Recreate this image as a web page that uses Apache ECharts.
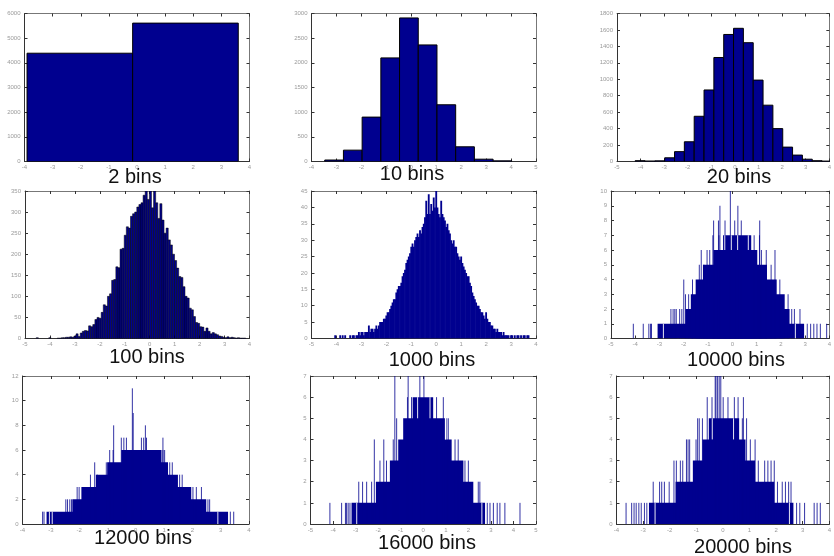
<!DOCTYPE html>
<html>
<head>
<meta charset="utf-8">
<script src="https://cdn.jsdelivr.net/npm/echarts@6/dist/echarts.min.js"></script>
<style>
html, body { margin: 0; padding: 0; background: #fff; }
#chart { width: 834px; height: 556px; }
</style>
</head>
<body>
<div id="chart"></div>
<script>
var NAVY = '#00008f';

// panel captions
var captions = ['2 bins', '10 bins', '20 bins', '100 bins', '1000 bins', '10000 bins', '12000 bins', '16000 bins', '20000 bins'];

// axis ranges: x [min, max], y top, y tick step
var xRanges = [[-4, 4], [-4, 5], [-5, 4], [-5, 4], [-5, 4], [-5, 4], [-4, 4], [-5, 5], [-4, 4]];
var yTops = [6000, 3000, 1800, 350, 45, 10, 12, 7, 7];
var ySteps = [1000, 500, 200, 50, 5, 1, 2, 1, 1];

// 2 bins
var start2 = -3.91, width2 = 3.755;
var counts2 = [4390, 5610];

// 10 bins
var start10 = -3.47, width10 = 0.75;
var counts10 = [30, 230, 900, 2100, 2910, 2363, 1150, 298, 47, 13];

// 20 bins
var start20 = -4.23, width20 = 0.417;
var counts20 = [10, 6, 8, 45, 120, 240, 550, 870, 1265, 1545, 1620, 1445, 990, 685, 400, 175, 78, 28, 10, 5];

// 100 bins
var start100 = -4.55, width100 = 0.084;
var counts100 = [
  2, 0, 0, 0, 0, 0, 2, 0, 0, 0,
  1, 1, 2, 2, 3, 3, 4, 3, 6, 11,
  5, 13, 17, 19, 18, 30, 28, 33, 45, 50,
  48, 62, 80, 77, 100, 106, 138, 140, 170, 168,
  212, 214, 245, 265, 262, 290, 296, 300, 312, 318,
  322, 340, 350, 330, 350, 310, 350, 322, 285, 320,
  281, 250, 262, 234, 222, 200, 185, 167, 147, 145,
  123, 100, 96, 72, 68, 52, 38, 36, 28, 27,
  17, 25, 17, 11, 14, 11, 9, 6, 5, 3,
  2, 4, 2, 3, 2, 1, 2, 1, 1, 1
];

// 1000 bins, read as columns of 0.05 (centres)
var start1000 = -4.1, step1000 = 0.05;
var counts1000 = [
  0, 1, 0, 0, 0, 1, 0, 1, 0, 1,
  0, 0, 0, 1, 0, 1, 1, 0, 1, 1,
  2, 1, 2, 2, 1, 2, 2, 2, 4, 2,
  3, 3, 2, 3, 4, 3, 4, 5, 5, 5,
  6, 6, 7, 8, 8, 9, 10, 11, 12, 12,
  14, 15, 16, 16, 17, 19, 20, 21, 23, 24,
  25, 26, 28, 29, 28, 30, 31, 32, 31, 33,
  32, 34, 35, 37, 42, 38, 44, 38, 41, 39,
  43, 40, 45, 40, 38, 37, 42, 38, 37, 36,
  34, 35, 33, 32, 30, 29, 30, 28, 28, 26,
  25, 24, 25, 23, 22, 21, 20, 19, 19, 17,
  16, 14, 13, 12, 11, 10, 10, 9, 8, 8,
  7, 6, 8, 6, 5, 5, 4, 4, 3, 3,
  2, 3, 2, 2, 2, 1, 2, 1, 1, 1,
  1, 0, 1, 1, 0, 1, 0, 1, 1, 0,
  1, 0, 1, 1, 0, 1, 1
];

// fine histograms: plateaus [from, to, count], single spikes [x, count], empty bins [x, count]
var levels10000 = [[-3.08, 2.96, 1], [-1.93, 2.36, 2], [-1.71, 2.16, 3], [-1.51, 1.83, 4], [-1.21, 1.43, 5], [-0.77, 1.03, 6], [-0.38, 0.78, 7]];
var spikes10000 = [[-4.08, 1], [-3.67, 1], [-3.44, 1], [-3.37, 1], [-3.33, 1], [3.09, 1], [3.23, 1], [3.36, 1], [3.49, 1], [3.63, 1], [3.89, 1],
  [-2.53, 2], [-2.44, 2], [-2.37, 2], [-2.31, 2], [-2.17, 2], [-2.08, 2], [2.45, 2], [2.56, 2], [2.79, 2],
  [-1.93, 3], [-1.8, 3], [2.3, 3],
  [-2.0, 4], [-1.64, 4], [1.96, 4],
  [-1.17, 5], [-1.36, 5], [1.6, 5],
  [-1.28, 6], [-1.04, 6], [-0.93, 6], [1.2, 6], [1.4, 6], [1.76, 6],
  [-0.8, 7], [-0.55, 7], [0.9, 7], [1.12, 7],
  [-0.77, 8], [-0.57, 8], [-0.3, 8], [0.1, 8], [0.37, 8], [1.13, 8],
  [-0.51, 9], [0.23, 9], [-0.08, 10]];
var gaps10000 = [[-2.84, 0], [-0.31, 6], [-0.04, 6], [0.22, 6], [0.66, 6], [2.6, 0]];

var levels12000 = [[-3.15, 3.26, 1], [-2.24, 2.49, 2], [-1.92, 1.96, 3], [-1.41, 1.49, 4], [-1.01, 1.14, 5], [-0.51, 0.91, 6]];
var spikes12000 = [[-3.29, 1], [-3.24, 1], [3.34, 1], [3.46, 1],
  [-2.47, 2], [-2.41, 2], [-2.33, 2], [-2.27, 2], [2.55, 2], [2.61, 2],
  [-2.07, 3], [-2.0, 3], [2.02, 3], [2.14, 3], [2.32, 3],
  [-1.6, 4], [-1.36, 4], [1.55, 4], [1.64, 4],
  [-1.45, 5], [-1.04, 5], [1.2, 5], [1.29, 5],
  [-0.92, 6], [-0.8, 6], [0.96, 6], [1.02, 6],
  [-0.51, 7], [-0.42, 7], [-0.33, 7], [0.2, 7], [0.28, 7], [0.38, 7], [0.96, 7],
  [-0.78, 8], [0.34, 8], [-0.09, 9], [-0.12, 11]];
var gaps12000 = [[-3.05, 0], [-2.95, 0], [-0.2, 6], [0.1, 6], [2.9, 0]];

var levels16000 = [[-3.18, 2.74, 1], [-2.1, 2.22, 2], [-1.48, 1.78, 3], [-1.11, 1.26, 4], [-0.89, 0.96, 5], [-0.47, 0.44, 6]];
var spikes16000 = [[-4.14, 1], [-3.62, 1], [-3.45, 1], [-3.4, 1], [-3.33, 1], [-3.25, 1], [2.84, 1], [2.96, 1], [3.11, 1], [3.28, 1], [3.4, 1], [3.62, 1], [4.29, 1],
  [-2.86, 2], [-2.69, 2], [-2.51, 2], [-2.29, 2], [2.44, 2], [2.51, 2],
  [-1.92, 3], [-1.63, 3], [1.85, 3], [2.0, 3],
  [-2.17, 4], [-1.75, 4], [-1.33, 4], [1.41, 4], [1.55, 4],
  [-1.18, 5], [1.04, 5], [1.11, 5],
  [-0.7, 6], [-0.52, 6], [0.59, 6], [0.89, 6],
  [-1.26, 7], [-0.67, 7], [-0.15, 7], [0.03, 7]];
var gaps16000 = [[-2.95, 0], [-0.25, 5], [0.3, 5], [1.0, 4], [2.6, 0]];

var levels20000 = [[-2.78, 2.65, 1], [-1.78, 1.93, 2], [-1.13, 1.21, 3], [-0.77, 0.85, 4], [-0.53, 0.61, 5]];
var spikes20000 = [[-3.64, 1], [-3.43, 1], [-3.34, 1], [-3.26, 1], [-3.16, 1], [-3.07, 1], [-2.95, 1], [-2.86, 1], [2.77, 1], [2.89, 1], [3.07, 1], [3.43, 1], [3.54, 1], [3.66, 1],
  [-2.62, 2], [-2.38, 2], [-2.3, 2], [-2.2, 2], [-2.02, 2], [2.05, 2], [2.23, 2], [2.35, 2], [2.47, 2], [2.56, 2],
  [-1.84, 3], [-1.75, 3], [-1.6, 3], [-1.51, 3], [1.33, 3], [1.57, 3], [1.69, 3], [1.81, 3], [1.93, 3],
  [-1.37, 4], [-1.31, 4], [-1.25, 4], [-1.01, 4], [1.03, 4], [1.21, 4],
  [-0.95, 5], [-0.89, 5], [-0.77, 5], [0.73, 5], [0.89, 5],
  [-0.59, 6], [-0.41, 6], [0.01, 6], [0.19, 6], [0.43, 6], [0.57, 6], [0.77, 6],
  [-0.29, 7], [-0.26, 7], [-0.2, 7], [-0.14, 7], [-0.08, 7]];
var gaps20000 = [[-2.55, 0], [-0.4, 4], [0.4, 4], [2.5, 0]];

// layout of the 3x3 panels (pixels) and caption positions
var boxes = [
  [24.5, 13.5, 225, 148], [311.5, 13.5, 224.5, 148], [617, 13.5, 223, 148],
  [25, 191, 224.5, 147.5], [311.5, 191, 224.5, 147.5], [611, 191, 225, 147.5],
  [22.5, 376, 226.5, 148], [310.5, 376, 225.5, 148], [616.5, 376, 222.5, 148]
];
var capPos = [[135, 177], [412, 174], [739, 177], [147, 357], [432, 360], [736, 360], [143, 538], [427, 543], [743, 547]];

function binItems(start, w, counts) {
  return counts.map(function (c, i) { return [start + i * w, start + (i + 1) * w, c]; });
}
function colItems(start, step, counts) {
  return counts.map(function (c, i) { return [start + i * step - step / 2, start + i * step + step / 2, c]; });
}

function rectRender(stroke, lw, pad) {
  return function (params, api) {
    if (!api.value(2)) return null;
    var p0 = api.coord([api.value(0), api.value(2)]);
    var p1 = api.coord([api.value(1), 0]);
    return {
      type: 'rect',
      shape: { x: p0[0] - pad, y: p0[1], width: p1[0] - p0[0] + 2 * pad, height: p1[1] - p0[1] },
      style: { fill: NAVY, stroke: stroke, lineWidth: lw }
    };
  };
}
function lineRender(color, opacity) {
  return function (params, api) {
    var a = api.coord([api.value(0), api.value(1)]);
    var b = api.coord([api.value(0), api.value(2)]);
    return {
      type: 'line',
      shape: { x1: a[0], y1: a[1], x2: b[0], y2: b[1] },
      style: { stroke: color, lineWidth: 1, opacity: opacity }
    };
  };
}

var grids = [], xAxes = [], yAxes = [], series = [];
var labelStyle = { fontSize: 6, color: '#9a9a9a', fontFamily: 'Liberation Sans, Arial, sans-serif' };

boxes.forEach(function (b, i) {
  grids.push({ left: b[0], top: b[1], width: b[2], height: b[3] });
  [['bottom', true, '#333'], ['top', false, '#777']].forEach(function (p) {
    xAxes.push({
      gridIndex: i, type: 'value', position: p[0], min: xRanges[i][0], max: xRanges[i][1], interval: 1,
      axisLine: { show: true, onZero: false, lineStyle: { color: p[2], width: 1 } },
      axisTick: { show: true, inside: true, length: 3, lineStyle: { color: '#333' } },
      axisLabel: Object.assign({ show: p[1], margin: 3, formatter: function (v) { return String(v); } }, labelStyle),
      splitLine: { show: false }
    });
  });
  [['left', true, '#333'], ['right', false, '#777']].forEach(function (p) {
    yAxes.push({
      gridIndex: i, type: 'value', position: p[0], min: 0, max: yTops[i], interval: ySteps[i],
      axisLine: { show: true, onZero: false, lineStyle: { color: p[2], width: 1 } },
      axisTick: { show: true, inside: true, length: 3, lineStyle: { color: '#333' } },
      axisLabel: Object.assign({ show: p[1], margin: 4, formatter: function (v) { return String(v); } }, labelStyle),
      splitLine: { show: false }
    });
  });
});

function addRects(i, data, stroke, lw, pad) {
  series.push({
    type: 'custom', xAxisIndex: 2 * i, yAxisIndex: 2 * i, clip: true,
    renderItem: rectRender(stroke, lw, pad), data: data, encode: { x: [0, 1], y: 2 }
  });
}
function addLines(i, pts, color, opacity, gap) {
  series.push({
    type: 'custom', xAxisIndex: 2 * i, yAxisIndex: 2 * i, clip: true,
    renderItem: lineRender(color, opacity),
    data: pts.map(function (p) { return gap ? [p[0], p[1], p[1] + 1] : [p[0], 0, p[1]]; }),
    encode: { x: 0, y: [1, 2] }
  });
}

addRects(0, binItems(start2, width2, counts2), '#000', 1, 0);
addRects(1, binItems(start10, width10, counts10), '#000', 1, 0);
addRects(2, binItems(start20, width20, counts20), '#000', 1, 0);
addRects(3, binItems(start100, width100, counts100), '#000', 0.5, 0);
addRects(4, colItems(start1000, step1000, counts1000), null, 0, 0.3);

[[levels10000, spikes10000, gaps10000], [levels12000, spikes12000, gaps12000],
 [levels16000, spikes16000, gaps16000], [levels20000, spikes20000, gaps20000]].forEach(function (set, k) {
  var i = 5 + k;
  addRects(i, set[0], null, 0, 0);
  addLines(i, set[1], NAVY, 0.8, false);
  addLines(i, set[2], '#ffffff', 0.9, true);
});

var chart = echarts.init(document.getElementById('chart'));
chart.setOption({
  animation: false,
  backgroundColor: '#fff',
  grid: grids,
  xAxis: xAxes,
  yAxis: yAxes,
  series: series,
  graphic: captions.map(function (t, i) {
    return {
      type: 'text', x: capPos[i][0], y: capPos[i][1],
      style: {
        text: t, fontSize: 20, fontFamily: 'Liberation Sans, Arial, sans-serif', fill: '#111',
        textAlign: 'center', textVerticalAlign: 'middle', align: 'center', verticalAlign: 'middle'
      }
    };
  })
});
</script>
</body>
</html>
